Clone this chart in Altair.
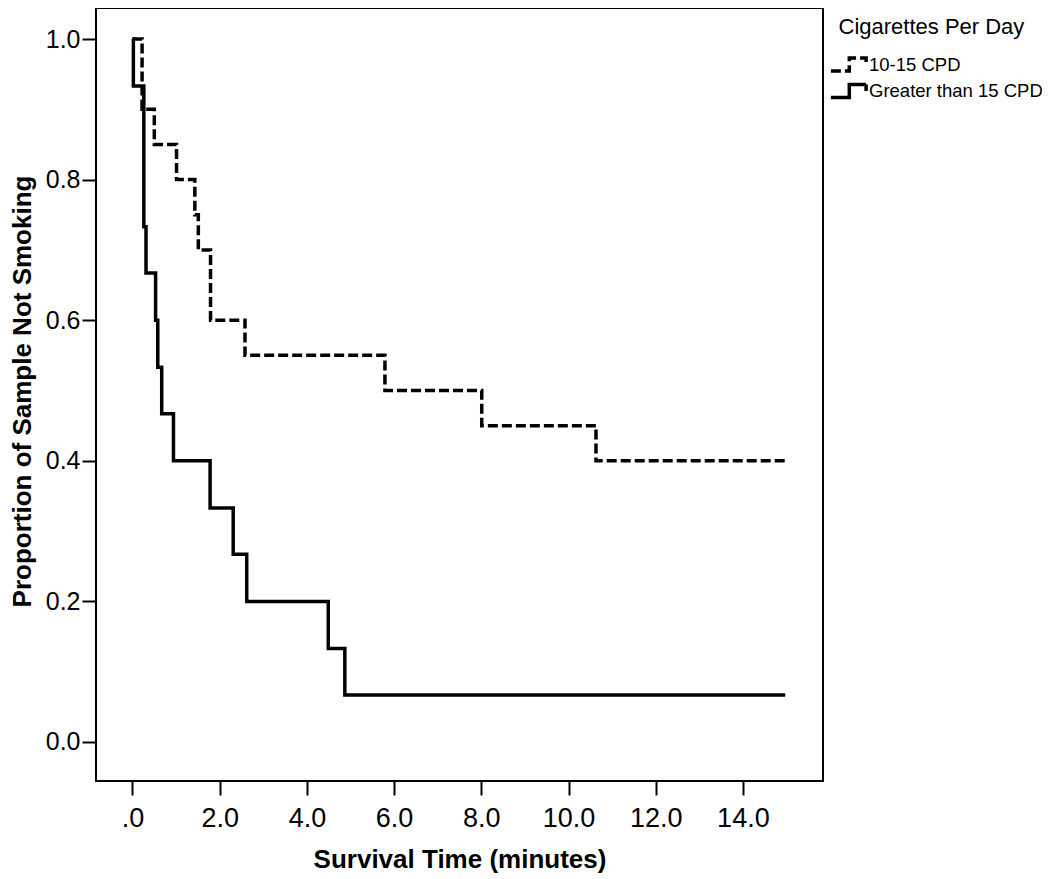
import altair as alt
import pandas as pd

# Kaplan-Meier step data
group_names = ["10-15 CPD", "Greater than 15 CPD"]

dash_times = [0.0, 0.22, 0.50, 1.01, 1.43, 1.51, 1.79, 2.58, 5.79, 8.01, 10.63, 14.97]
dash_surv = [1.0, 0.90, 0.85, 0.80, 0.75, 0.70, 0.60, 0.55, 0.50, 0.45, 0.40, 0.40]

solid_times = [0.0, 0.02, 0.26, 0.31, 0.53, 0.58, 0.67, 0.94, 1.78, 2.31, 2.62, 4.49, 4.87, 14.97]
solid_surv = [1.0, 0.933, 0.733, 0.667, 0.600, 0.533, 0.467, 0.400, 0.333, 0.267, 0.200, 0.133, 0.067, 0.067]

x_ticks = [0, 2, 4, 6, 8, 10, 12, 14]
y_ticks = [0.0, 0.2, 0.4, 0.6, 0.8, 1.0]

rows = []
for t, s in zip(dash_times, dash_surv):
    rows.append({"time": t, "surv": s, "group": group_names[0], "ord": len(rows)})
for t, s in zip(solid_times, solid_surv):
    rows.append({"time": t, "surv": s, "group": group_names[1], "ord": len(rows)})
df = pd.DataFrame(rows)

FONT = "Liberation Sans"
step_path = "M-2.2,0.8H0.1V-0.8H2.2V0"

chart = (
    alt.Chart(df)
    .mark_line(interpolate="step-after", strokeWidth=3.5, color="black")
    .encode(
        x=alt.X(
            "time:Q",
            scale=alt.Scale(domain=[-0.837, 15.837], nice=False, zero=False),
            axis=alt.Axis(
                values=x_ticks,
                labelExpr="datum.value == 0 ? '.0' : format(datum.value, '.1f')",
                labelFont=FONT,
                labelFontSize=27,
                labelColor="black",
                labelPadding=10,
                tickColor="black",
                tickWidth=2,
                tickSize=14,
                domain=False,
                grid=False,
                title="Survival Time (minutes)",
                titleFont=FONT,
                titleFontSize=26,
                titleFontWeight="bold",
                titleColor="black",
                titleX=363.5,
                titleY=86,
                titleBaseline="alphabetic",
            ),
        ),
        y=alt.Y(
            "surv:Q",
            scale=alt.Scale(domain=[-0.0555, 1.0441], nice=False, zero=False),
            axis=alt.Axis(
                values=y_ticks,
                format=".1f",
                labelFont=FONT,
                labelFontSize=25,
                labelColor="black",
                labelPadding=2,
                tickColor="black",
                tickWidth=2,
                tickSize=14,
                domain=False,
                grid=False,
                title="Proportion of Sample Not Smoking",
                titleFont=FONT,
                titleFontSize=26,
                titleFontWeight="bold",
                titleColor="black",
                titleX=-66,
                titleY=383,
                titleAngle=270,
                titleAlign="center",
                titleBaseline="alphabetic",
            ),
        ),
        strokeDash=alt.StrokeDash(
            "group:N",
            scale=alt.Scale(domain=group_names, range=[[10, 4], [1, 0]]),
            legend=alt.Legend(
                title="Cigarettes Per Day",
                orient="none",
                legendX=742.5,
                legendY=8.5,
                padding=0,
                titleFont=FONT,
                titleFontSize=22,
                titleFontWeight="normal",
                titleColor="black",
                titlePadding=16,
                titleLimit=0,
                labelFont=FONT,
                labelFontSize=18.5,
                labelColor="black",
                labelOffset=10.5,
                labelLimit=0,
                rowPadding=-1.5,
                symbolType=step_path,
                symbolSize=256,
                symbolStrokeWidth=3.5,
                symbolStrokeColor="black",
                symbolFillColor="transparent",
            ),
        ),
        order="ord:Q",
    )
    .properties(
        width=727,
        height=773,
        autosize=alt.AutoSizeParams(type="none"),
        padding={"left": 88, "top": 0, "right": 219, "bottom": 93},
    )
    .configure(background="white", view=alt.ViewConfig(stroke="black", strokeWidth=2))
)

chart.save("out.html", embed_options={"renderer": "svg", "actions": False})
